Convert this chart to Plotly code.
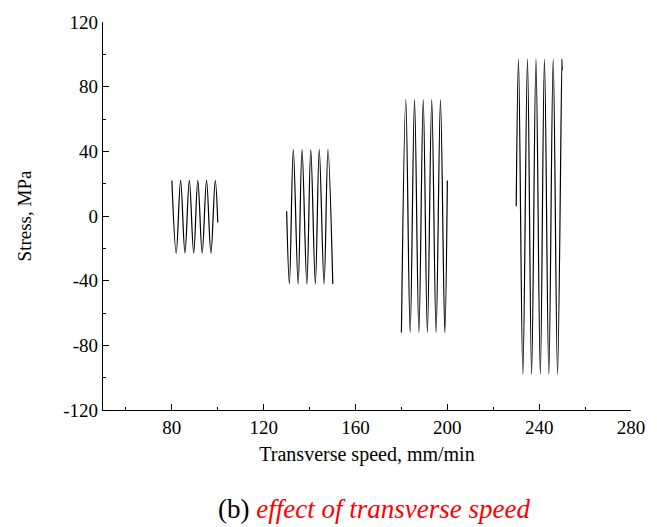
import plotly.graph_objects as go

# Segment 1 (80-100 mm/min): extrema
seg1_x = [80.0, 81.9, 83.8, 85.7, 87.6, 89.5, 91.3, 93.2, 95.1, 97.0, 98.9, 100.0]
seg1_y = [22, -23, 22, -23, 22, -23, 22, -23, 22, -23, 22, -4]

# Segment 2 (130-150 mm/min)
seg2_x = [130.0, 131.2, 132.9, 135.0, 136.7, 138.8, 140.5, 142.5, 144.2, 146.3, 148.0, 150.1]
seg2_y = [3, -42, 41, -42, 41, -42, 41, -42, 41, -42, 41, -42]

# Segment 3 (180-200 mm/min)
seg3_x = [180.0, 181.9, 183.8, 185.7, 187.6, 189.5, 191.3, 193.2, 195.1, 197.0, 198.9, 200.0]
seg3_y = [-72, 72, -72, 72, -72, 72, -72, 72, -72, 72, -72, 22]

# Segment 4 (230-250 mm/min)
seg4_x = [230.0, 231.0, 232.9, 234.9, 236.7, 238.6, 240.5, 242.3, 244.2, 246.1, 248.0, 249.9, 250.0]
seg4_y = [6, 97, -98, 97, -98, 97, -98, 97, -98, 97, -98, 97, 90]

x_ticks = [80, 120, 160, 200, 240, 280]
y_ticks = [-120, -80, -40, 0, 40, 80, 120]

FONT = "Liberation Serif"

fig = go.Figure()
for xs, ys in [(seg1_x, seg1_y), (seg2_x, seg2_y), (seg3_x, seg3_y), (seg4_x, seg4_y)]:
    fig.add_trace(go.Scatter(x=xs, y=ys, mode="lines",
                             line=dict(color="black", width=1.2, shape="spline", smoothing=1.0),
                             showlegend=False, hoverinfo="skip"))

axis_common = dict(showgrid=False, zeroline=False, showline=True, linecolor="black", linewidth=1.3,
                   ticks="inside", ticklen=6, tickwidth=1.3, tickcolor="black",
                   tickfont=dict(family=FONT, size=19, color="black"))

fig.update_xaxes(range=[50, 280], tickvals=x_ticks, ticktext=[str(v) for v in x_ticks],
                 minor=dict(ticks="inside", ticklen=3, tickwidth=1, tickcolor="black", dtick=20, tick0=0),
                 title=dict(text="Transverse speed, mm/min", font=dict(family=FONT, size=20, color="black"), standoff=10),
                 **axis_common)
fig.update_yaxes(range=[-120, 120], tickvals=y_ticks, ticktext=[str(v) for v in y_ticks],
                 minor=dict(ticks="inside", ticklen=3, tickwidth=1, tickcolor="black", dtick=20, tick0=0),
                 title=dict(text="Stress, MPa", font=dict(family=FONT, size=19, color="black"), standoff=26),
                 **axis_common)

fig.add_annotation(text="(b) <i><span style='color:red'>effect of transverse speed</span></i>",
                   xref="paper", yref="paper", x=0.513, y=-0.255, xanchor="center", yanchor="middle",
                   showarrow=False, font=dict(family=FONT, size=27, color="black"))

fig.update_layout(width=657, height=527, margin=dict(l=103, r=26, t=19, b=117),
                  plot_bgcolor="white", paper_bgcolor="white")

fig.write_html("out.html")
